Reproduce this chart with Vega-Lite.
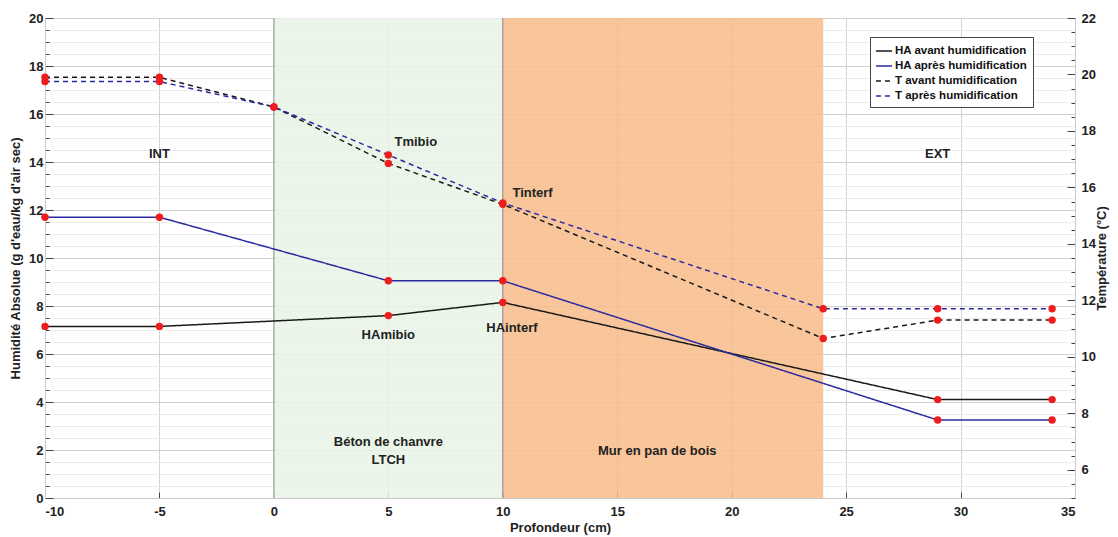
{
  "$schema": "https://vega.github.io/schema/vega-lite/v6.json",
  "width": 1030,
  "height": 480,
  "autosize": {"type": "none"},
  "padding": {"left": 45, "top": 18, "right": 43, "bottom": 39},
  "background": "white",
  "config": {
    "font": "Liberation Sans",
    "view": {"stroke": null},
    "axis": {
      "labelFont": "Liberation Sans", "labelFontWeight": "bold", "labelFontSize": 13, "labelColor": "#222",
      "titleFont": "Liberation Sans", "titleFontWeight": "bold", "titleFontSize": 13, "titleColor": "#222",
      "domainColor": "#c8c8c8", "tickColor": "#444"
    },
    "legend": {
      "orient": "none", "legendX": 825, "legendY": 19,
      "labelFont": "Liberation Sans", "labelFontWeight": "bold", "labelFontSize": 11.5, "labelColor": "#111",
      "symbolType": "stroke", "symbolSize": 260, "symbolStrokeWidth": 1.5,
      "strokeColor": "#444", "fillColor": "white", "padding": 5, "rowPadding": 0,
      "labelOffset": 2, "symbolOffset": 0
    }
  },
  "datasets": {
    "zones": [{"x": 0, "xe": 10, "zone": "LTCH"}, {"x": 10, "xe": 24, "zone": "Mur"}],
    "bounds": [{"x": 0}, {"x": 10}],
    "ha": [
      {"x": -10, "v": 7.15, "series": "HA avant humidification"},
      {"x": -5, "v": 7.15, "series": "HA avant humidification"},
      {"x": 5, "v": 7.6, "series": "HA avant humidification"},
      {"x": 10, "v": 8.15, "series": "HA avant humidification"},
      {"x": 29, "v": 4.1, "series": "HA avant humidification"},
      {"x": 34, "v": 4.1, "series": "HA avant humidification"},
      {"x": -10, "v": 11.7, "series": "HA après humidification"},
      {"x": -5, "v": 11.7, "series": "HA après humidification"},
      {"x": 5, "v": 9.05, "series": "HA après humidification"},
      {"x": 10, "v": 9.05, "series": "HA après humidification"},
      {"x": 29, "v": 3.25, "series": "HA après humidification"},
      {"x": 34, "v": 3.25, "series": "HA après humidification"}
    ],
    "t": [
      {"x": -10, "v": 19.9, "series": "T avant humidification"},
      {"x": -5, "v": 19.9, "series": "T avant humidification"},
      {"x": 0, "v": 18.85, "series": "T avant humidification"},
      {"x": 5, "v": 16.85, "series": "T avant humidification"},
      {"x": 10, "v": 15.4, "series": "T avant humidification"},
      {"x": 24, "v": 10.65, "series": "T avant humidification"},
      {"x": 29, "v": 11.3, "series": "T avant humidification"},
      {"x": 34, "v": 11.3, "series": "T avant humidification"},
      {"x": -10, "v": 19.75, "series": "T après humidification"},
      {"x": -5, "v": 19.75, "series": "T après humidification"},
      {"x": 0, "v": 18.85, "series": "T après humidification"},
      {"x": 5, "v": 17.15, "series": "T après humidification"},
      {"x": 10, "v": 15.45, "series": "T après humidification"},
      {"x": 24, "v": 11.7, "series": "T après humidification"},
      {"x": 29, "v": 11.7, "series": "T après humidification"},
      {"x": 34, "v": 11.7, "series": "T après humidification"}
    ],
    "labels": [
      {"x": -5, "v": 14.35, "label": "INT"},
      {"x": 29, "v": 14.35, "label": "EXT"},
      {"x": 6.2, "v": 14.83, "label": "Tmibio"},
      {"x": 11.3, "v": 12.7, "label": "Tinterf"},
      {"x": 5.0, "v": 6.8, "label": "HAmibio"},
      {"x": 10.4, "v": 7.08, "label": "HAinterf"},
      {"x": 5.0, "v": 2.33, "label": "Béton de chanvre"},
      {"x": 5.0, "v": 1.6, "label": "LTCH"},
      {"x": 16.75, "v": 1.96, "label": "Mur en pan de bois"}
    ]
  },
  "encoding": {
    "x": {
      "field": "x", "type": "quantitative",
      "scale": {"domain": [-10, 35], "nice": false, "zero": false},
      "axis": {
        "title": "Profondeur (cm)",
        "values": [-10, -5, 0, 5, 10, 15, 20, 25, 30, 35],
        "labelExpr": "'' + datum.value",
        "grid": true, "gridColor": "#d4d4d4",
        "tickSize": -6, "labelPadding": 13, "titlePadding": 3
      }
    }
  },
  "layer": [
    {
      "data": {"name": "zones"},
      "transform": [{"filter": "datum.zone == 'LTCH'"}],
      "mark": {"type": "rect", "color": "#e7f3e5", "opacity": 0.85},
      "encoding": {"x2": {"field": "xe"}}
    },
    {
      "data": {"name": "zones"},
      "transform": [{"filter": "datum.zone == 'Mur'"}],
      "mark": {"type": "rect", "color": "#f8bc89", "opacity": 0.85},
      "encoding": {"x2": {"field": "xe"}}
    },
    {
      "data": {"name": "bounds"},
      "mark": {"type": "rule", "color": "#8a8a8a", "strokeWidth": 1},
      "encoding": {}
    },
    {
      "encoding": {
        "y": {
          "field": "v", "type": "quantitative",
          "scale": {"domain": [0, 20], "nice": false, "zero": false},
          "axis": {
            "title": "Humidité Absolue (g d'eau/kg d'air sec)",
            "values": [0,0.5,1,1.5,2,2.5,3,3.5,4,4.5,5,5.5,6,6.5,7,7.5,8,8.5,9,9.5,10,10.5,11,11.5,12,12.5,13,13.5,14,14.5,15,15.5,16,16.5,17,17.5,18,18.5,19,19.5,20],
            "labelExpr": "datum.value % 2 == 0 ? '' + datum.value : ''",
            "tickSize": {"condition": {"test": "datum.value % 2 == 0", "value": -8}, "value": -4},
            "grid": true,
            "gridColor": {"condition": {"test": "datum.value % 2 == 0", "value": "#d0d0d0"}, "value": "#ececec"},
            "labelPadding": 10, "titlePadding": 6
          }
        }
      },
      "layer": [
        {
          "data": {"name": "ha"},
          "mark": {"type": "line", "strokeWidth": 1.5},
          "encoding": {
            "color": {
              "field": "series", "type": "nominal",
              "scale": {
                "domain": ["HA avant humidification", "HA après humidification", "T avant humidification", "T après humidification"],
                "range": ["#1a1a1a", "#2b2ba0", "#1a1a1a", "#2b2ba0"]
              },
              "legend": {"title": null}
            },
            "strokeDash": {
              "field": "series", "type": "nominal",
              "scale": {
                "domain": ["HA avant humidification", "HA après humidification", "T avant humidification", "T après humidification"],
                "range": [[1, 0], [1, 0], [5, 4], [5, 4]]
              },
              "legend": {"title": null}
            }
          }
        },
        {
          "data": {"name": "ha"},
          "mark": {"type": "point", "filled": true, "color": "#ee1c1c", "size": 55, "opacity": 1}
        },
        {
          "data": {"name": "labels"},
          "mark": {"type": "text", "font": "Liberation Sans", "fontWeight": "bold", "fontSize": 13, "color": "#222"},
          "encoding": {"text": {"field": "label"}}
        }
      ]
    },
    {
      "data": {"name": "t"},
      "encoding": {
        "y": {
          "field": "v", "type": "quantitative",
          "scale": {"domain": [5, 22], "nice": false, "zero": false},
          "axis": {
            "orient": "right",
            "title": "Température (°C)",
            "titleAngle": 270,
            "values": [5,5.5,6,6.5,7,7.5,8,8.5,9,9.5,10,10.5,11,11.5,12,12.5,13,13.5,14,14.5,15,15.5,16,16.5,17,17.5,18,18.5,19,19.5,20,20.5,21,21.5,22],
            "labelExpr": "datum.value % 2 == 0 ? '' + datum.value : ''",
            "tickSize": {"condition": {"test": "datum.value % 2 == 0", "value": -8}, "value": -4},
            "grid": false,
            "labelPadding": 14, "titlePadding": 13
          }
        }
      },
      "layer": [
        {
          "mark": {"type": "line", "strokeWidth": 1.5},
          "encoding": {
            "color": {"field": "series", "type": "nominal", "legend": {"title": null}},
            "strokeDash": {"field": "series", "type": "nominal", "legend": {"title": null}}
          }
        },
        {
          "mark": {"type": "point", "filled": true, "color": "#ee1c1c", "size": 55, "opacity": 1}
        }
      ]
    }
  ],
  "resolve": {"scale": {"y": "independent"}}
}
